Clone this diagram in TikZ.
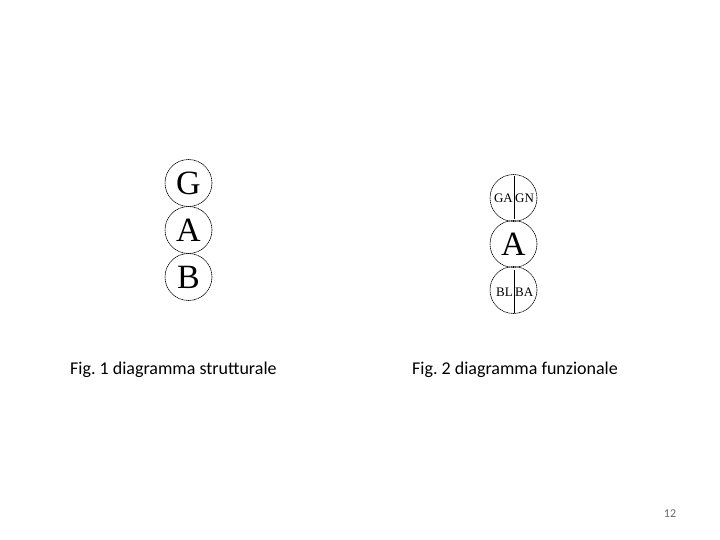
\documentclass[tikz,border=0pt]{standalone}
\usepackage{fontspec}
\usetikzlibrary{calc}
\setmainfont{Liberation Serif}
\newfontfamily\captionfont{Carlito}
\tikzset{
  ring/.style={draw=black, line width=0.6pt, dash pattern=on 1.5pt off 0.5pt},
  bigletter/.style={font=\fontsize{34}{34}\selectfont},
  smallletter/.style={font=\fontsize{13}{13}\selectfont, inner sep=0pt},
  figcaption/.style={font=\captionfont\fontsize{18}{18}\selectfont, anchor=west, inner sep=0pt}
}
\begin{document}
\begin{tikzpicture}[x=1pt, y=-1pt]
        \useasboundingbox (0,0) rectangle (720,540);
        % coordinates for the structural diagram
        \coordinate (sG) at (188.5, 183);
        \coordinate (sA) at (188.5, 230);
        \coordinate (sB) at (188.5, 277);
        % coordinates for the functional diagram
        \coordinate (fG) at (513.5, 198);
        \coordinate (fA) at (513.5, 244);
        \coordinate (fB) at (513.5, 290);
        % drawing the structural circles
        \draw[ring] (sG) circle (23.5);
        \draw[ring] (sA) circle (23.5);
        \draw[ring] (sB) circle (23.5);
        \node[bigletter] (letterG) at ($(sG)+(0,0.5)$) {G};
        \node[bigletter] (letterA) at ($(sA)+(0,0.5)$) {A};
        \node[bigletter] (letterB) at ($(sB)+(0,0.5)$) {B};
        % drawing the functional circles
        \draw[ring] (fG) circle (23.5);
        \draw[ring] (fA) circle (23.5);
        \draw[ring] (fB) circle (23.5);
        \draw[line width=0.8pt] ($(fG)+(0.5,-22)$) -- ($(fG)+(0.5,21)$);
        \draw[line width=0.8pt] ($(fB)+(0.5,-20)$) -- ($(fB)+(0.5,23)$);
        \node[smallletter, anchor=east] (labelGA) at ($(fG)+(-0.5,0)$) {GA};
        \node[smallletter, anchor=west] (labelGN) at ($(fG)+(1.5,0)$) {GN};
        \node[bigletter] (letterfA) at ($(fA)+(0,0.5)$) {A};
        \node[smallletter, anchor=east] (labelBL) at ($(fB)+(-0.5,2)$) {BL};
        \node[smallletter, anchor=west] (labelBA) at ($(fB)+(1.5,2)$) {BA};
        % captions and page number
        \node[figcaption] (cap1) at (70, 370) {Fig.\ 1 diagramma strutturale};
        \node[figcaption] (cap2) at (412, 370) {Fig.\ 2 diagramma funzionale};
        \node[font=\captionfont\fontsize{12}{12}\selectfont, text=black!60] (pagenum) at (670, 514) {12};
\end{tikzpicture}
\end{document}
